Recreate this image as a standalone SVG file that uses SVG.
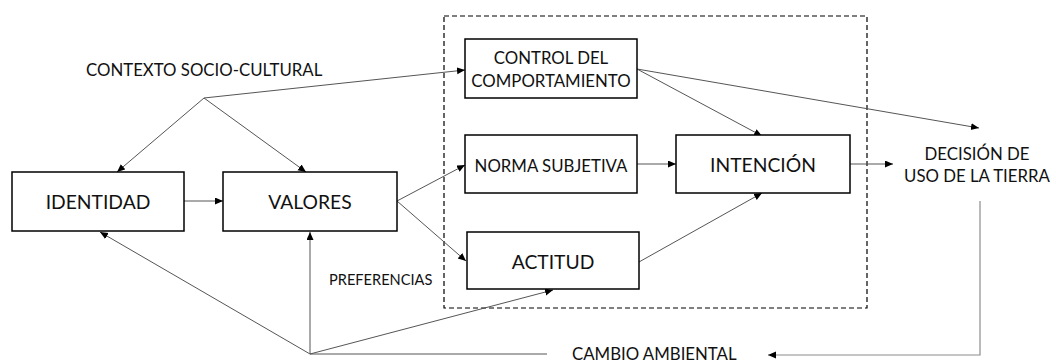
<svg xmlns="http://www.w3.org/2000/svg" width="1056" height="362" viewBox="0 0 1056 362">
<style>
.box{fill:#fff;stroke:#000;stroke-width:1.5}
.t{font-family:Lato,"Liberation Sans",sans-serif;fill:#111}
.c{text-anchor:middle}
.s{font-size:16.8px}
.m{font-size:19.3px}
.ln{fill:none;stroke:#555;stroke-width:1}
.lg{fill:none;stroke:#8c8c8c;stroke-width:1.2}
.frame{fill:none;stroke:#000;stroke-width:1.2;stroke-dasharray:5,3}
</style>
<defs>
<marker id="ah" markerUnits="userSpaceOnUse" markerWidth="9" markerHeight="8" refX="8" refY="3.5" orient="auto">
<path d="M0,0 L8,3.5 L0,7 z" fill="#000"/>
</marker>
</defs>
<rect width="1056" height="362" fill="#fff"/>
<rect class="frame" x="444" y="16" width="423" height="292"/>
<g id="connectors">
<line class="ln" x1="204" y1="98" x2="117" y2="172" marker-end="url(#ah)"/>
<line class="ln" x1="204" y1="98" x2="306" y2="172" marker-end="url(#ah)"/>
<line class="ln" x1="204" y1="98" x2="465" y2="70" marker-end="url(#ah)"/>
<line class="ln" x1="184" y1="201" x2="223" y2="201" marker-end="url(#ah)"/>
<line class="ln" x1="397" y1="201" x2="465" y2="165" marker-end="url(#ah)"/>
<line class="ln" x1="397" y1="201" x2="466" y2="261" marker-end="url(#ah)"/>
<line class="ln" x1="637" y1="69" x2="762" y2="136" marker-end="url(#ah)"/>
<line class="ln" x1="637" y1="69" x2="979" y2="128" marker-end="url(#ah)"/>
<line class="ln" x1="637" y1="164" x2="676" y2="164" marker-end="url(#ah)"/>
<line class="ln" x1="639" y1="262" x2="762" y2="193" marker-end="url(#ah)"/>
<line class="ln" x1="850" y1="164" x2="893" y2="164" marker-end="url(#ah)"/>
<polyline class="lg" points="980,201 980,355 768,355" marker-end="url(#ah)"/>
<line class="ln" x1="547" y1="354" x2="310" y2="354"/>
<line class="ln" x1="310" y1="354" x2="310" y2="232" marker-end="url(#ah)"/>
<line class="ln" x1="310" y1="354" x2="553" y2="290" marker-end="url(#ah)"/>
<line class="ln" x1="310" y1="354" x2="100" y2="232" marker-end="url(#ah)"/>
</g>
<g id="contexto"><text class="t s" x="86" y="76">CONTEXTO SOCIO-CULTURAL</text></g>
<g id="identidad"><rect class="box" x="12" y="172" width="172" height="59"/><text class="t c m" x="98" y="209">IDENTIDAD</text></g>
<g id="valores"><rect class="box" x="223" y="172" width="174" height="59"/><text class="t c m" x="310" y="209">VALORES</text></g>
<g id="control"><rect class="box" x="465" y="39" width="172" height="59"/><text class="t c s" x="551" y="64">CONTROL DEL</text><text class="t c s" x="551" y="87">COMPORTAMIENTO</text></g>
<g id="norma"><rect class="box" x="465" y="135" width="172" height="58"/><text class="t c s" x="551" y="172">NORMA SUBJETIVA</text></g>
<g id="intencion"><rect class="box" x="676" y="135" width="174" height="58"/><text class="t c m" x="763" y="172">INTENCIÓN</text></g>
<g id="actitud"><rect class="box" x="467" y="232" width="172" height="57"/><text class="t c m" x="553" y="269">ACTITUD</text></g>
<g id="decision"><text class="t c s" x="977" y="160">DECISIÓN DE</text><text class="t c s" x="977" y="182">USO DE LA TIERRA</text></g>
<g id="preferencias"><text class="t" x="329" y="285" font-size="14.6">PREFERENCIAS</text></g>
<g id="cambio"><text class="t s" x="572" y="360">CAMBIO AMBIENTAL</text></g>
</svg>
